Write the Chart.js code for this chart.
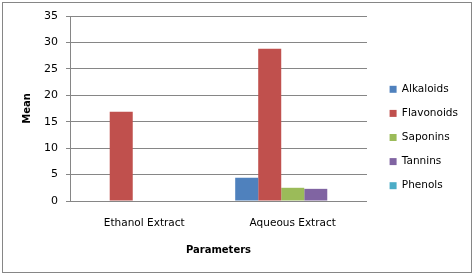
<!DOCTYPE html>
<html>
<head>
<meta charset="utf-8">
<script src="https://cdn.jsdelivr.net/npm/chart.js@4/dist/chart.umd.min.js"></script>
<style>
  html, body { margin: 0; padding: 0; background: #fff; }
  #wrap { width: 475px; height: 275px; }
</style>
</head>
<body>
<div id="wrap"><canvas id="chart" width="475" height="275"></canvas></div>
<script>
const categories = ['Ethanol Extract', 'Aqueous Extract'];
const alkaloids = [0, 4.4];
const flavonoids = [16.9, 28.8];
const saponins = [0, 2.5];
const tannins = [0, 2.3];
const phenols = [0, 0];
const yTicks = [0, 5, 10, 15, 20, 25, 30, 35];

const FONT = 'DejaVu Sans';

// white background + outer grey frame, legend nudged right like excel
const frame = {
    id: 'frame',
    afterLayout: function (chart) {
        chart.legend.left += 9;
        chart.legend.right += 9;
    },
    beforeDraw: function (chart) {
        const c = chart.ctx;
        c.save();
        c.fillStyle = '#fff';
        c.fillRect(0, 0, chart.width, chart.height);
        c.strokeStyle = '#868686';
        c.lineWidth = 1;
        c.strokeRect(2.5, 2.5, 469, 270);
        c.restore();
    }
};

new Chart(document.getElementById('chart'), {
    type: 'bar',
    data: {
        labels: categories,
        datasets: [
            { label: 'Alkaloids', data: alkaloids, backgroundColor: '#4F81BD' },
            { label: 'Flavonoids', data: flavonoids, backgroundColor: '#C0504D' },
            { label: 'Saponins', data: saponins, backgroundColor: '#9BBB59' },
            { label: 'Tannins', data: tannins, backgroundColor: '#8064A2' },
            { label: 'Phenols', data: phenols, backgroundColor: '#4BACC6' }
        ]
    },
    options: {
        responsive: false,
        animation: false,
        categoryPercentage: 0.775,
        barPercentage: 1,
        layout: { padding: { top: 16, right: 16, bottom: 16, left: 0 } },
        plugins: {
            legend: {
                position: 'right',
                labels: {
                    boxWidth: 7,
                    boxHeight: 7,
                    padding: 13.6,
                    color: '#000',
                    font: { family: FONT, size: 10.5 }
                }
            },
            tooltip: { enabled: false }
        },
        scales: {
            x: {
                grid: { display: false, drawTicks: false },
                border: { display: false },
                ticks: { color: '#000', padding: 16, font: { family: FONT, size: 10.5 } },
                title: {
                    display: true, text: 'Parameters', color: '#000',
                    font: { family: FONT, size: 10, weight: 'bold' },
                    padding: { top: 0, bottom: 3 }
                },
                afterFit: function (s) { s.height = 58; }
            },
            y: {
                min: 0, max: 35,
                afterBuildTicks: function (s) { s.ticks = yTicks.map(v => ({ value: v })); },
                grid: { color: '#868686', tickLength: 4 },
                border: { display: true, color: '#868686' },
                ticks: { color: '#000', padding: 8, font: { family: FONT, size: 11 } },
                title: {
                    display: true, text: 'Mean', color: '#000',
                    font: { family: FONT, size: 10, weight: 'bold' },
                    padding: { top: 21, bottom: 0 }
                },
                afterFit: function (s) { s.width = 70; }
            }
        }
    },
    plugins: [frame]
});
</script>
</body>
</html>
